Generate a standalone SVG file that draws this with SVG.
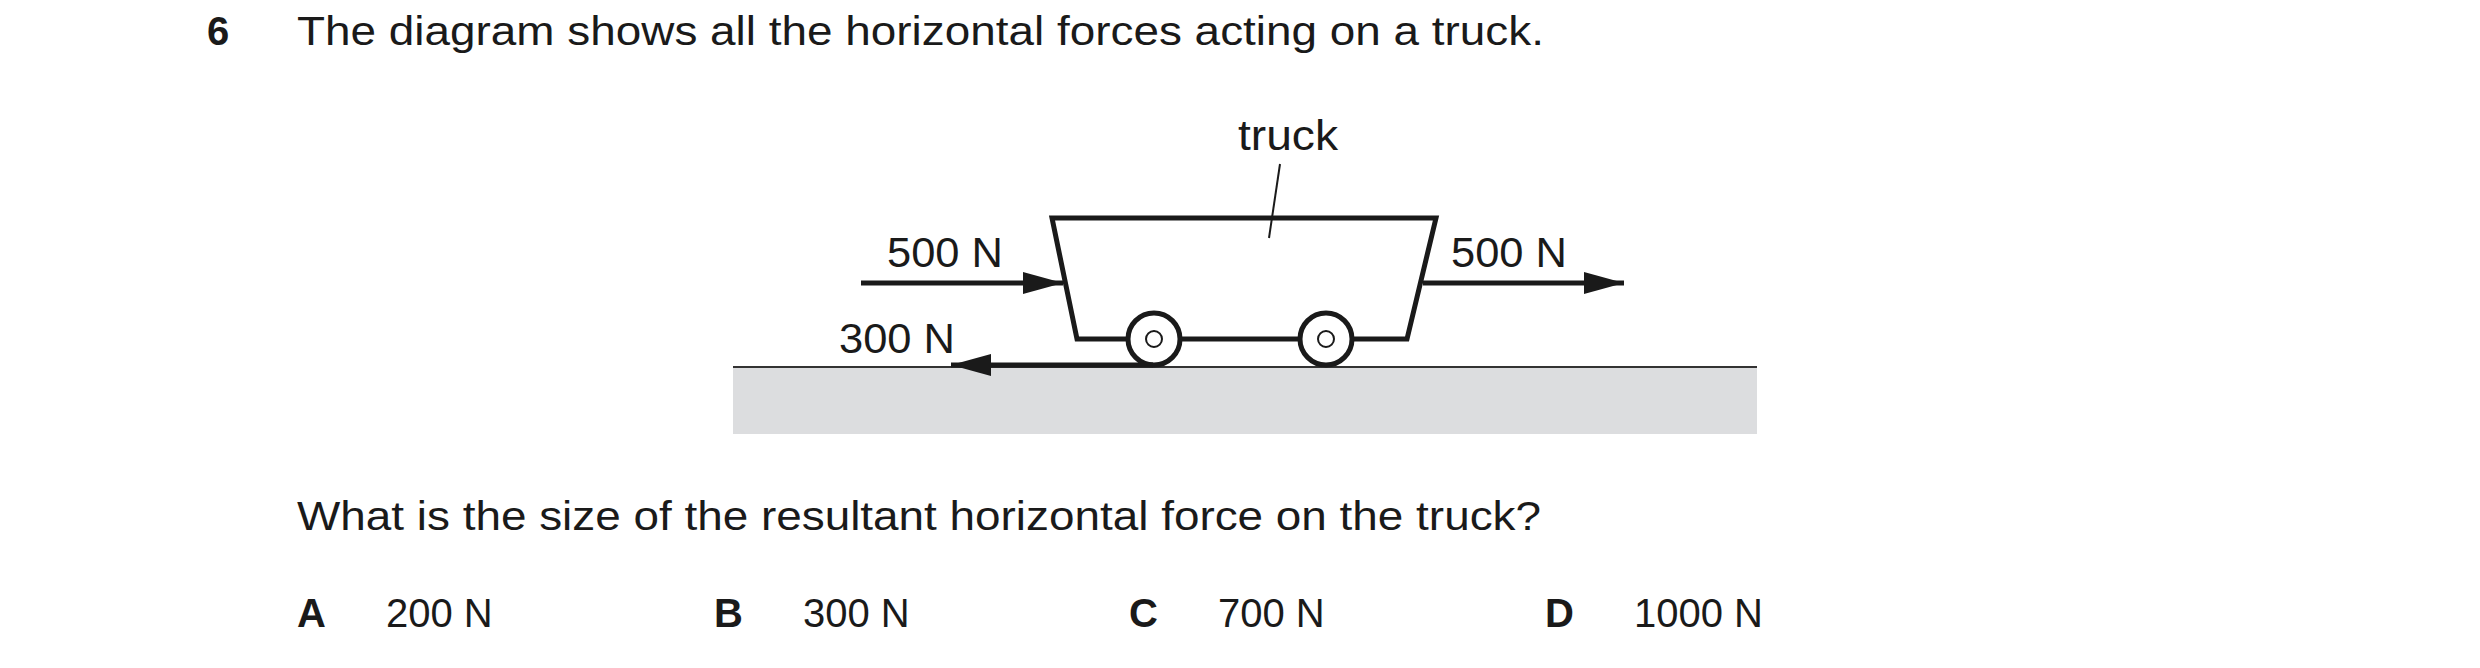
<svg xmlns="http://www.w3.org/2000/svg" width="2480" height="668" viewBox="0 0 2480 668">
<style>
text{font-family:"Liberation Sans",Arial,sans-serif;fill:#1a1a1a}
.q{font-size:40px}
.b{font-weight:bold}
.l{font-size:42px}
.s{stroke:#1a1a1a;fill:none;stroke-width:5}
</style>
<defs>
<marker id="ah2" viewBox="0 0 40 22" refX="40" refY="11" markerWidth="40" markerHeight="22" markerUnits="userSpaceOnUse" orient="auto"><path d="M0,0 L40,11 L0,22 z" fill="#1a1a1a"/></marker>
</defs>
<rect width="2480" height="668" fill="#fff"/>
<text class="q b" x="207" y="45">6</text>
<text class="q" x="297" y="45" textLength="1247" lengthAdjust="spacingAndGlyphs">The diagram shows all the horizontal forces acting on a truck.</text>
<g id="ground">
<rect x="733" y="367" width="1024" height="67" fill="#dcdddf"/>
<line x1="733" y1="367" x2="1757" y2="367" stroke="#333" stroke-width="2"/>
</g>
<g id="truck">
<path class="s" d="M1052,218 L1436,218 L1407,339 L1077,339 Z" stroke-width="4"/>
<circle cx="1154" cy="339" r="26" fill="#fff" stroke="#1a1a1a" stroke-width="5"/>
<circle cx="1154" cy="339" r="8" fill="#fff" stroke="#1a1a1a" stroke-width="2"/>
<circle cx="1326" cy="339" r="26" fill="#fff" stroke="#1a1a1a" stroke-width="5"/>
<circle cx="1326" cy="339" r="8" fill="#fff" stroke="#1a1a1a" stroke-width="2"/>
<text class="l" x="1238" y="150" textLength="100" lengthAdjust="spacingAndGlyphs">truck</text>
</g>
<g id="connectors">
<line x1="1280" y1="164" x2="1269" y2="238" stroke="#1a1a1a" stroke-width="2"/>
<line class="s" x1="861" y1="283" x2="1063" y2="283" marker-end="url(#ah2)"/>
<line class="s" x1="1423" y1="283" x2="1624" y2="283" marker-end="url(#ah2)"/>
<line class="s" x1="1153" y1="365" x2="951" y2="365" marker-end="url(#ah2)"/>
</g>
<g id="labels">
<text class="l" x="887" y="267" textLength="116" lengthAdjust="spacingAndGlyphs">500 N</text>
<text class="l" x="1451" y="267" textLength="116" lengthAdjust="spacingAndGlyphs">500 N</text>
<text class="l" x="839" y="353" textLength="116" lengthAdjust="spacingAndGlyphs">300 N</text>
</g>
<text class="q" x="297" y="530" textLength="1244" lengthAdjust="spacingAndGlyphs">What is the size of the resultant horizontal force on the truck?</text>
<g id="options">
<text class="q b" x="297" y="627">A</text><text class="q" x="386" y="627">200 N</text>
<text class="q b" x="714" y="627">B</text><text class="q" x="803" y="627">300 N</text>
<text class="q b" x="1129" y="627">C</text><text class="q" x="1218" y="627">700 N</text>
<text class="q b" x="1545" y="627">D</text><text class="q" x="1634" y="627">1000 N</text>
</g>
</svg>
